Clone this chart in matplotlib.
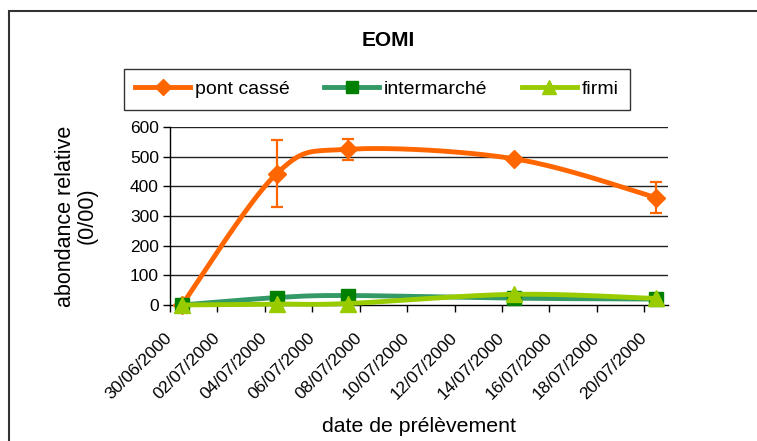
import matplotlib
import matplotlib.pyplot as plt
import numpy as np
import pandas as pd
from matplotlib.patches import Rectangle

matplotlib.use('Agg')

# Sampling dates and relative abundance (0/00) per site
dates = ["30/06/2000", "04/07/2000", "07/07/2000", "14/07/2000", "20/07/2000"]
pont_casse = [0, 443, 525, 493, 362]
pont_casse_err = [0, 112, 36, 0, 52]
intermarche = [0, 25, 32, 23, 20]
firmi = [0, 3, 5, 36, 22]

series_names = ["pont cassé", "intermarché", "firmi"]
tick_dates = pd.date_range("2000-06-30", "2000-07-20", freq="2D")

plt.rcParams['font.family'] = ['Liberation Sans', 'DejaVu Sans']

fig = plt.figure(figsize=(7.57, 4.41), dpi=100)
ax = fig.add_axes([170 / 757, 1 - 305 / 441, 498 / 757, 178 / 441])

start = pd.Timestamp("2000-06-30")
# points sit in the middle of their day on the date axis
x = np.array([(pd.to_datetime(d, format="%d/%m/%Y") - start).days for d in dates]) + 0.5
xlim = (0, 21)
ylim = (0, 600)


def smooth(xs, ys, n=40):
    # Catmull-Rom bezier curve computed in screen-like units
    bbox = ax.get_position()
    sx = bbox.width * 757 / (xlim[1] - xlim[0])
    sy = bbox.height * 441 / (ylim[1] - ylim[0])
    p = np.column_stack([np.asarray(xs) * sx, np.asarray(ys, float) * sy])
    pts = np.vstack([p[0], p, p[-1]])
    out = []
    t = np.linspace(0, 1, n)[:, None]
    for i in range(1, len(pts) - 2):
        p0, p1, p2, p3 = pts[i - 1], pts[i], pts[i + 1], pts[i + 2]
        c1 = p1 + (p2 - p0) / 6
        c2 = p2 - (p3 - p1) / 6
        seg = ((1 - t) ** 3) * p1 + 3 * ((1 - t) ** 2) * t * c1 + 3 * (1 - t) * t ** 2 * c2 + t ** 3 * p2
        out.append(seg if i == 1 else seg[1:])
    out = np.vstack(out)
    return out[:, 0] / sx, out[:, 1] / sy


for yv in range(100, 601, 100):
    ax.axhline(yv, color='#222222', lw=1.0, zorder=1)

styles = [
    dict(color='#FF6600', mfc='#FF6600', mec='#FF6600', marker='D', ms=9),
    dict(color='#339966', mfc='#008000', mec='#008000', marker='s', ms=10),
    dict(color='#99CC00', mfc='#99CC00', mec='#99CC00', marker='^', ms=11),
]
handles = []
for i, (name, vals, st) in enumerate(zip(series_names, [pont_casse, intermarche, firmi], styles)):
    sx_, sy_ = smooth(x, vals)
    ax.plot(sx_, sy_, color=st['color'], lw=3.5, solid_capstyle='round', zorder=3 + i, clip_on=False)
    ax.plot(x, vals, linestyle='none', marker=st['marker'], ms=st['ms'],
            mfc=st['mfc'], mec=st['mec'], zorder=3 + i, clip_on=False)
    if i == 0:
        ax.errorbar(x, vals, yerr=pont_casse_err, fmt='none', ecolor='#FF6600',
                    elinewidth=1.6, capsize=4.5, capthick=1.6, zorder=3)
    h, = ax.plot([], [], color=st['color'], lw=3.5, marker=st['marker'], ms=st['ms'] - 1,
                 mfc=st['mfc'], mec=st['mec'], label=name)
    handles.append(h)

ax.set_xlim(*xlim)
ax.set_ylim(*ylim)
ax.set_yticks(range(0, 601, 100))
ax.set_xticks([(d - start).days for d in tick_dates])
ax.set_xticklabels([d.strftime("%d/%m/%Y") for d in tick_dates], rotation=45,
                   ha='right', va='center', rotation_mode='anchor')
ax.tick_params(axis='both', labelsize=12.5, direction='out', length=5, width=1, color='black')
ax.tick_params(axis='x', pad=17)
ax.tick_params(axis='y', pad=3)
for s in ['top', 'right']:
    ax.spines[s].set_visible(False)
for s in ['left', 'bottom']:
    ax.spines[s].set_linewidth(1)
    ax.spines[s].set_color('black')

fig.text(76 / 757, 1 - 216 / 441, "abondance relative\n(0/00)", fontsize=15.5, rotation=90,
         ha='center', va='center', multialignment='center', linespacing=1.05)
fig.text(419 / 757, 1 - 427 / 441, "date de prélèvement", fontsize=15.3, ha='center', va='center')
fig.text(388 / 757, 1 - 41 / 441, "EOMI", fontsize=15, fontweight='bold', ha='center', va='center')

leg = fig.legend(handles=handles, loc='center', ncol=3,
                 bbox_to_anchor=(377 / 757, 1 - 89.5 / 441),
                 fontsize=14, frameon=True, fancybox=False, handlelength=2.8,
                 handletextpad=0.25, borderaxespad=0, columnspacing=1.8, borderpad=0.6)
leg.get_frame().set_edgecolor('black')
leg.get_frame().set_linewidth(1)

# chart area border
fig.patches.append(Rectangle((9 / 757, -0.1), 1.2, 1 - 11 / 441 + 0.1, transform=fig.transFigure,
                             fill=False, edgecolor='#333333', lw=1.5))

fig.savefig("out.png", dpi=100)
